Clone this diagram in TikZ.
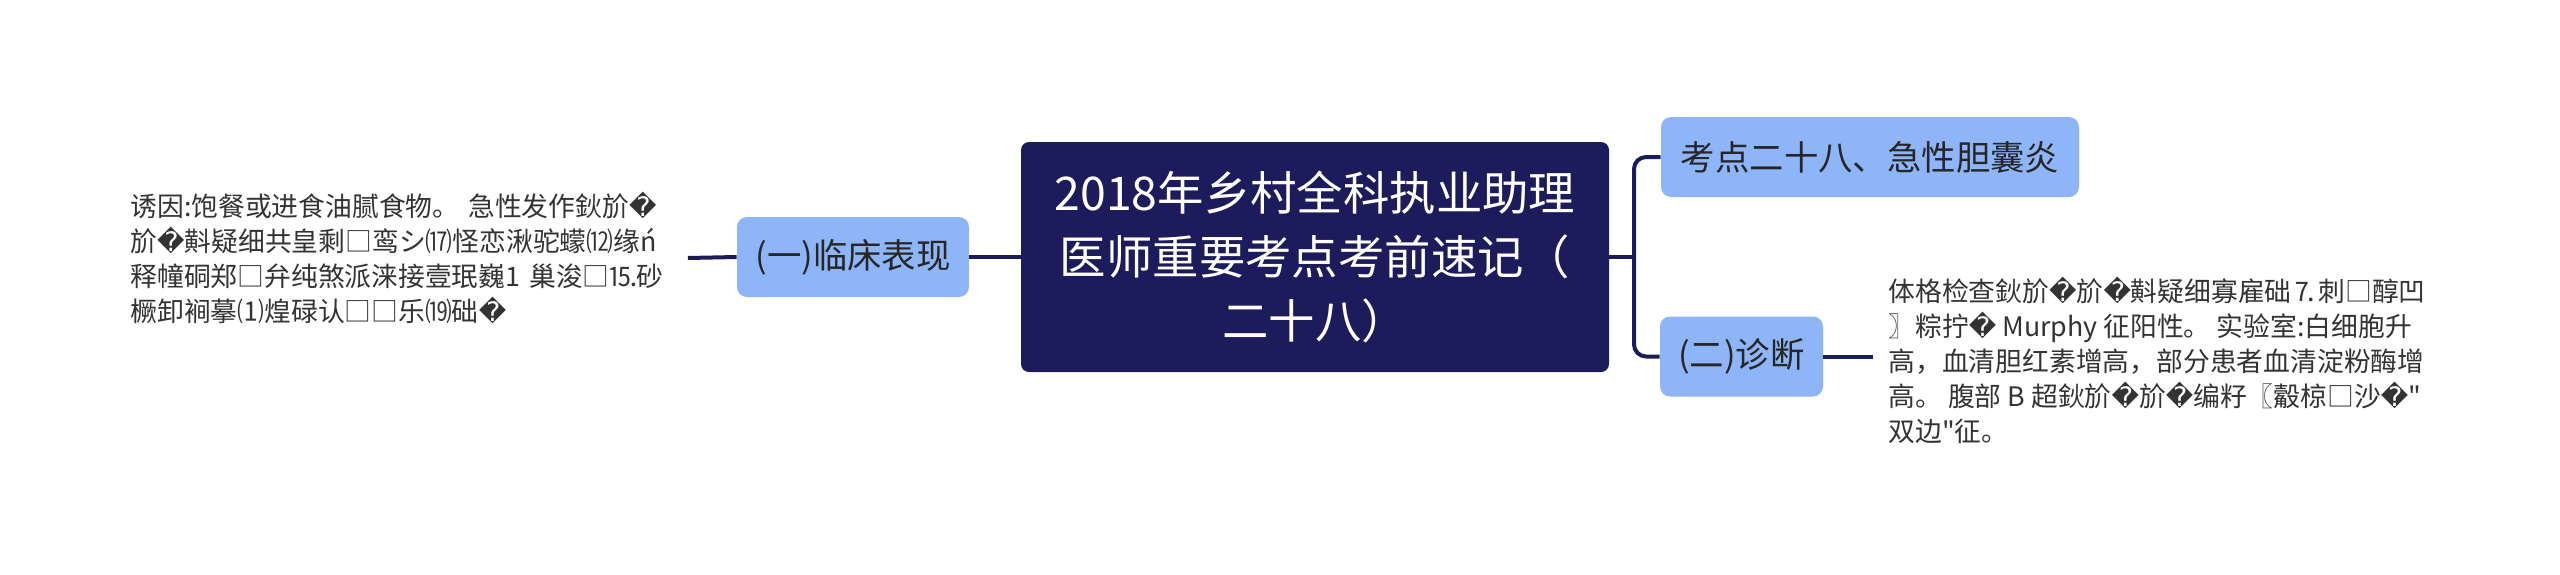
\documentclass[tikz,border=0pt]{standalone}
\usepackage{fontspec}
\setmainfont{Noto Sans CJK SC}[Ligatures=TeXOff]
\newfontfamily\repfont{DejaVu Sans}
\newcommand{\badch}{{\repfont\char"FFFD}}
\usepackage{tikz}
\definecolor{navy}{HTML}{1C1B5B}
\definecolor{topicblue}{HTML}{8DB5F8}
\definecolor{inktext}{HTML}{333333}

\begin{document}
\begin{tikzpicture}
	[
	x=0.5pt, y=-0.5pt,
	root/.style={fill=navy, text=white, rounded corners=4pt, minimum width=294pt, minimum height=115pt,
		align=center, font=\fontsize{23.2pt}{32pt}\selectfont},
	topic/.style={fill=topicblue, text=black!85, rounded corners=5pt, minimum height=40pt,
		inner xsep=3pt, font=\fontsize{17.2pt}{20pt}\selectfont},
	leaf/.style={text=inktext, align=left, inner sep=0pt, font=\fontsize{13.4pt}{17.5pt}\selectfont},
	link/.style={draw=navy, line width=2pt}]
	\useasboundingbox (0,0) rectangle (2560,574);
	\node[root] (title) at (1315,257) {2018年乡村全科执业助理\\医师重要考点考前速记（\\二十八）};
	\node[topic, minimum width=116pt] (clinic) at (853,257) {(一)临床表现};
	\node[topic, minimum width=209pt] (point) at (1870,157) {考点二十八、急性胆囊炎};
	\node[topic, minimum width=81.5pt] (diag) at (1741.5,356.5) {(二)诊断};
	\node[leaf, anchor=west, text width=278.5pt] (clinicText) at (130,258) {诱因:饱餐或进食油腻食物。 急性发作鈥斺\badch\\
		斺\badch 斢疑细共皇剩□鸾シ⒄怪恋湫驼蠓⑿缘ń\\
		释幢硐郑□弁纯煞派涞接壹珉巍1 巢浚□⒖砂\\
		橛卸裥摹⑴煌碌认□□乐⒆础\badch};
	\node[leaf, anchor=west, inner xsep=7.5pt] (diagText) at (1873,360) {体格检查鈥斺\badch 斺\badch 斢疑细寡雇础⒎刺□醇凹\\
		〗粽拧\badch{} Murphy 征阳性。 实验室:白细胞升\\
		高，血清胆红素增高，部分患者血清淀粉酶增\\
		高。 腹部 B 超鈥斺\badch 斺\badch 编籽〖觳椋□沙\badch"\\
		双边"征。};
	\coordinate (fork) at (1634,257);
	\draw[link] (title.west) -- (clinic.east);
	\draw[link] (clinic.west) -- (clinicText.east);
	\draw[link] (title.east) -- (fork);
	\draw[link, rounded corners=6pt] (point.west) -| (fork) |- (diag.west);
	\draw[link] (diag.east) -- (diag.east -| diagText.west);
\end{tikzpicture}
\end{document}
